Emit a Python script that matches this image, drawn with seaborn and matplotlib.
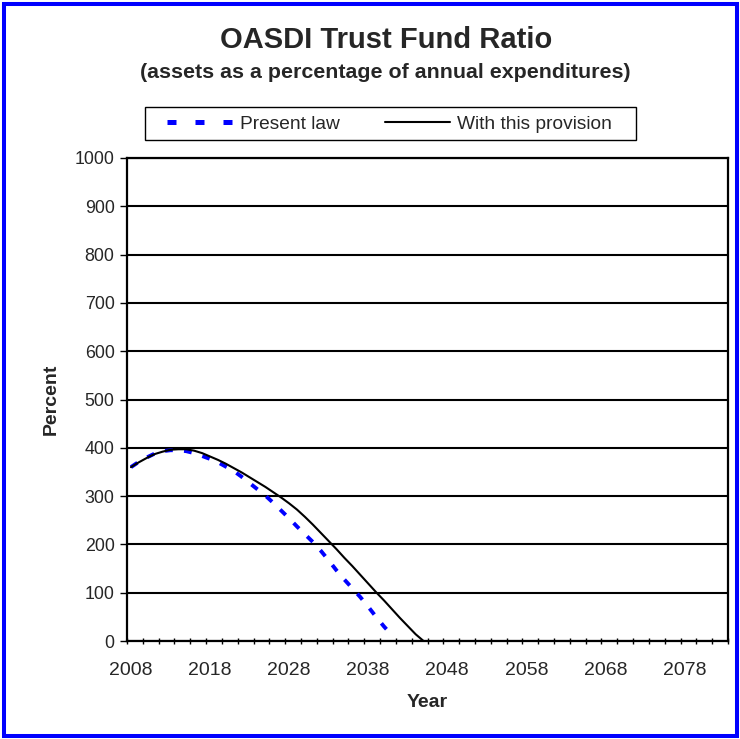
import matplotlib
matplotlib.use("Agg")
import matplotlib.pyplot as plt
import seaborn as sns
from matplotlib.lines import Line2D
from matplotlib.patches import Rectangle
from matplotlib.ticker import FixedLocator, MultipleLocator

# valeurs (pourcentage des dépenses annuelles)
years_present = list(range(2008, 2042))
present_law = [360, 371, 380, 388, 393, 395, 395, 393, 389, 383, 377, 370,
               361, 352, 340, 327, 314, 301, 286, 270, 254, 237, 221, 205,
               187, 167, 146, 127, 109, 91, 71, 50, 30, 12]

years_provision = list(range(2008, 2046))
with_provision = [360, 370, 379, 387, 392, 396, 397, 397, 394, 389, 382, 375,
                  367, 358, 349, 339, 329, 319, 308, 297, 285, 272, 257, 241,
                  224, 207, 190, 172, 155, 137, 119, 101, 84, 66, 48, 31, 14, 0]

year_labels = list(range(2008, 2079, 10))
series_labels = ["Present law", "With this provision"]

sns.set_style("white")
plt.rcParams['font.family'] = ['Liberation Sans', 'DejaVu Sans']

fig = plt.figure(figsize=(7.4, 7.39), dpi=100)
ax = fig.add_axes([127 / 740, 1 - 641 / 739, 601 / 740, 483 / 739])

sns.lineplot(x=years_present, y=present_law, ax=ax, color='blue', lw=2.8,
             linestyle=(0, (2, 2.9)), errorbar=None, legend=False)
sns.lineplot(x=years_provision, y=with_provision, ax=ax, color='black', lw=1.5,
             errorbar=None, legend=False)

ax.set_xlim(2007.5, 2083.5)
ax.set_ylim(0, 1000)

ax.yaxis.set_major_locator(MultipleLocator(100))
ax.yaxis.grid(True, color='black', lw=1.5)
ax.xaxis.grid(False)
ax.set_axisbelow(True)

ax.xaxis.set_major_locator(FixedLocator(year_labels))
ax.xaxis.set_minor_locator(MultipleLocator(2, offset=1.5))
ax.tick_params(axis='x', which='major', length=0, pad=15, labelsize=14)
ax.tick_params(axis='x', which='minor', direction='inout', length=5,
               width=1, color='black', bottom=True)
ax.tick_params(axis='y', which='major', direction='out', length=5,
               width=1, color='black', left=True, pad=4, labelsize=12.8)

for sp in ax.spines.values():
    sp.set_color('black')
    sp.set_linewidth(1.6)

ax.set_xlabel("Year", fontsize=14, fontweight='bold', labelpad=11)
ax.set_ylabel("Percent", fontsize=14, fontweight='bold', labelpad=11)

fig.text(386 / 740, 1 - 40 / 739, "OASDI Trust Fund Ratio", ha='center',
         va='center', fontsize=21, fontweight='bold')
fig.text(385 / 740, 1 - 72 / 739, "(assets as a percentage of annual expenditures)",
         ha='center', va='center', fontsize=15.4, fontweight='bold')

# légende : entrées sans cadre + cadre dessiné à part
handles = [
    Line2D([0], [0], color='blue', lw=3.6, linestyle=(0, (1.8, 3.8))),
    Line2D([0], [0], color='black', lw=1.5),
]
leg = fig.legend(handles, series_labels, ncol=2, loc='center left',
                 bbox_to_anchor=(167 / 740, 1 - 124 / 739),
                 fontsize=13.8, frameon=False, borderpad=0, borderaxespad=0,
                 handlelength=3.4, handletextpad=0.4, columnspacing=2.35)
fig.patches.append(Rectangle((145 / 740, 1 - 140 / 739), 491 / 740, 33 / 739,
                             transform=fig.transFigure, fill=False,
                             edgecolor='black', lw=1))

fig.patches.append(Rectangle((3.5 / 740, 3.5 / 739), 733 / 740, 732 / 739,
                             transform=fig.transFigure, fill=False,
                             edgecolor='blue', lw=2.9))

fig.savefig("out.png", dpi=100)
